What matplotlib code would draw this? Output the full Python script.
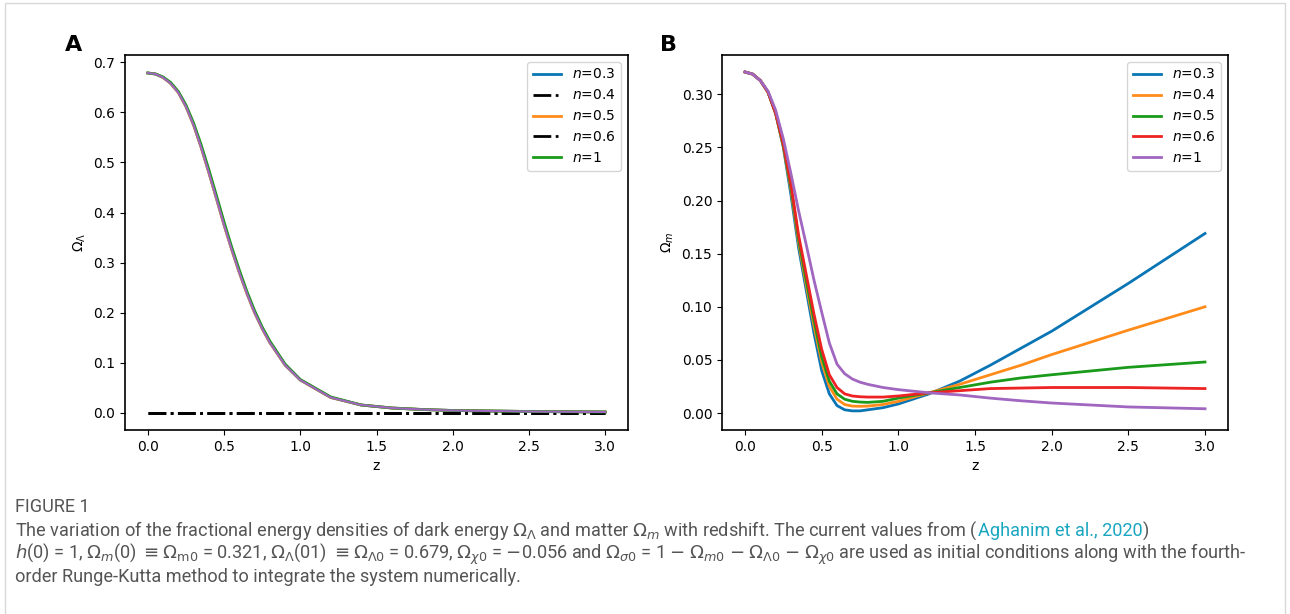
import matplotlib.pyplot as plt
from matplotlib.patches import Rectangle

# redshift samples
z = [0.0, 0.05, 0.1, 0.15, 0.2, 0.25, 0.3, 0.35, 0.4, 0.45, 0.5, 0.55, 0.6, 0.65, 0.7, 0.75,
     0.8, 0.9, 1.0, 1.2, 1.4, 1.6, 1.8, 2.0, 2.5, 3.0]

# panel A: Omega_Lambda (all n nearly identical)
omega_l = [0.679, 0.677, 0.670, 0.658, 0.640, 0.612, 0.575, 0.530, 0.480, 0.428, 0.375, 0.326, 0.280,
           0.238, 0.200, 0.168, 0.140, 0.095, 0.065, 0.030, 0.015, 0.009, 0.006, 0.004, 0.002, 0.001]
omega_l_shift = [0.679, 0.677, 0.671, 0.660, 0.642, 0.615, 0.579, 0.535, 0.486, 0.434, 0.381, 0.331, 0.285,
                 0.242, 0.204, 0.171, 0.143, 0.097, 0.066, 0.031, 0.015, 0.009, 0.006, 0.004, 0.002, 0.001]

# panel B: Omega_m
om_03 = [0.321, 0.319, 0.313, 0.302, 0.282, 0.250, 0.205, 0.155, 0.115, 0.075, 0.040, 0.018, 0.007,
         0.003, 0.002, 0.002, 0.003, 0.005, 0.0085, 0.018, 0.030, 0.045, 0.061, 0.077, 0.122, 0.169]
om_04 = [0.321, 0.319, 0.313, 0.302, 0.282, 0.251, 0.210, 0.160, 0.120, 0.082, 0.048, 0.025, 0.013,
         0.008, 0.0065, 0.0063, 0.0065, 0.008, 0.011, 0.019, 0.027, 0.036, 0.045, 0.055, 0.078, 0.100]
om_05 = [0.321, 0.319, 0.313, 0.302, 0.282, 0.252, 0.212, 0.163, 0.124, 0.087, 0.053, 0.030, 0.018,
         0.013, 0.011, 0.0103, 0.010, 0.011, 0.014, 0.019, 0.024, 0.029, 0.033, 0.036, 0.043, 0.048]
om_06 = [0.321, 0.319, 0.313, 0.302, 0.282, 0.253, 0.215, 0.167, 0.130, 0.093, 0.060, 0.036, 0.024,
         0.018, 0.016, 0.0153, 0.015, 0.015, 0.016, 0.019, 0.021, 0.023, 0.0235, 0.024, 0.024, 0.023]
om_1 = [0.321, 0.319, 0.313, 0.303, 0.285, 0.258, 0.225, 0.190, 0.158, 0.125, 0.095, 0.066, 0.046,
        0.037, 0.032, 0.029, 0.027, 0.024, 0.022, 0.019, 0.017, 0.014, 0.0115, 0.0094, 0.0057, 0.004]
zero = [0.0] * len(z)

blue, orange, green, red, purple = "#0a75b5", "#ff8c1a", "#1a9a1a", "#ee2222", "#a066c0"

fig = plt.figure(figsize=(12.9, 6.14), dpi=100)
fig.patches.append(Rectangle((0.004, -0.01), 0.992, 1.005, transform=fig.transFigure,
                             fill=False, edgecolor="#d8d8d8", linewidth=1))

axA = fig.add_axes([125 / 1290, 1 - 430 / 614, 503 / 1290, 375 / 614])
axA.plot(z, omega_l, color=blue, lw=2, label="$n$=0.3")
axA.plot(z, zero, color="black", lw=2, ls="-.", label="$n$=0.4")
axA.plot(z, omega_l, color=orange, lw=2, label="$n$=0.5")
axA.plot(z, zero, color="black", lw=2, ls="-.", label="$n$=0.6")
axA.plot(z, omega_l_shift, color=green, lw=2, label="$n$=1")
axA.plot(z, omega_l, color=purple, lw=1.5)
axA.set_xlim(-0.15, 3.15)
axA.set_ylim(-0.035, 0.715)
axA.set_xlabel("z")
axA.set_ylabel(r"$\Omega_\Lambda$")
axA.legend(loc="upper right", fontsize=10)

axB = fig.add_axes([722 / 1290, 1 - 430 / 614, 506 / 1290, 375 / 614])
axB.plot(z, om_03, color=blue, lw=2, label="$n$=0.3")
axB.plot(z, om_04, color=orange, lw=2, label="$n$=0.4")
axB.plot(z, om_05, color=green, lw=2, label="$n$=0.5")
axB.plot(z, om_06, color=red, lw=2, label="$n$=0.6")
axB.plot(z, om_1, color=purple, lw=2, label="$n$=1")
axB.set_xlim(-0.15, 3.15)
axB.set_ylim(-0.016, 0.337)
axB.set_xlabel("z")
axB.set_ylabel(r"$\Omega_m$")
axB.legend(loc="upper right", fontsize=10)

for ax in (axA, axB):
    ax.tick_params(labelsize=10)
    for sp in ax.spines.values():
        sp.set_linewidth(1.2)

fig.text(65 / 1290, 1 - 45 / 614, "A", fontsize=16, fontweight="bold", ha="left", va="center")
fig.text(660 / 1290, 1 - 45 / 614, "B", fontsize=16, fontweight="bold", ha="left", va="center")

gray = "#555555"
fs = 13.1
fig.text(15 / 1290, 1 - 507 / 614, "FIGURE 1", fontsize=13, color=gray, va="center", family="Roboto")
lines = [
    r"The variation of the fractional energy densities of dark energy $\Omega_\Lambda$ and matter $\Omega_m$ with redshift. The current values from (",
    r"$h$(0) = 1, $\Omega_m$(0) $\equiv\Omega_{\mathrm{m}0}$ = 0.321, $\Omega_\Lambda$(01) $\equiv\Omega_{\Lambda 0}$ = 0.679, $\Omega_{\chi 0}$ = $-$0.056 and $\Omega_{\sigma 0}$ = 1 $-$ $\Omega_{m0}$ $-$ $\Omega_{\Lambda 0}$ $-$ $\Omega_{\chi 0}$ are used as initial conditions along with the fourth-",
    "order Runge-Kutta method to integrate the system numerically.",
]
ys = [531, 554, 577]
t = fig.text(15 / 1290, 1 - ys[0] / 614, lines[0], fontsize=fs, color=gray, va="center", family="Roboto")
fig.canvas.draw()
bb = t.get_window_extent()
t2 = fig.text(bb.x1 / 1290, 1 - ys[0] / 614, "Aghanim et al., 2020", fontsize=fs, color="#1aa6c0",
              va="center", family="Roboto")
fig.canvas.draw()
bb2 = t2.get_window_extent()
fig.text(bb2.x1 / 1290, 1 - ys[0] / 614, ")", fontsize=fs, color=gray, va="center", family="Roboto")
for s, y in zip(lines[1:], ys[1:]):
    fig.text(15 / 1290, 1 - y / 614, s, fontsize=fs, color=gray, va="center", family="Roboto")

fig.savefig("out.png", dpi=100)
